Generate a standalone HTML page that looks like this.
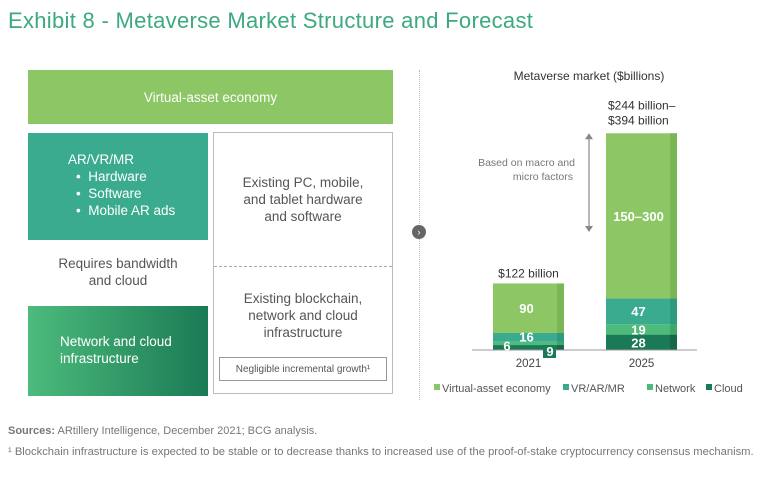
<!DOCTYPE html>
<html><head><meta charset="utf-8"><style>
body{margin:0;width:768px;height:477px;background:#fff;font-family:"Liberation Sans",sans-serif;position:relative;overflow:hidden}
.a{position:absolute}
.c{display:flex;align-items:center;justify-content:center;text-align:center}
</style></head><body>
<div class="a" style="left:8px;top:8px;font-size:22px;letter-spacing:0.3px;color:#3da97f">Exhibit 8 - Metaverse Market Structure and Forecast</div>

<div class="a c" style="left:28px;top:70px;width:365px;height:54px;background:#8cc665;color:#fff;font-size:13.5px">Virtual-asset economy</div>
<div class="a" style="left:28px;top:133px;width:180px;height:107px;background:#3aab8f;color:#fff;font-size:13.5px;line-height:17px">
<div style="position:absolute;left:40px;top:18px">AR/VR/MR</div>
<div style="position:absolute;left:48px;top:35px">•&nbsp; Hardware<br>•&nbsp; Software<br>•&nbsp; Mobile AR ads</div></div>
<div class="a c" style="left:28px;top:252px;width:180px;height:40px;color:#555;font-size:13.5px;line-height:17px">Requires bandwidth<br>and cloud</div>
<div class="a" style="left:28px;top:306px;width:180px;height:90px;background:linear-gradient(90deg,#4cbb7c,#1a7a55);color:#fff;font-size:13.5px;line-height:17px"><div style="position:absolute;left:32px;top:27px">Network and cloud<br>infrastructure</div></div>
<div class="a" style="left:213px;top:132px;width:178px;height:260px;border:1px solid #bbb">
<div class="c" style="position:absolute;left:0;top:0;width:178px;height:133px;color:#555;font-size:13.5px;line-height:17px">Existing PC, mobile,<br>and tablet hardware<br>and software</div>
<div style="position:absolute;left:0;top:133px;width:178px;border-top:1px dashed #aaa"></div>
<div class="c" style="position:absolute;left:0;top:150px;width:178px;height:65px;color:#555;font-size:13.5px;line-height:17px">Existing blockchain,<br>network and cloud<br>infrastructure</div>
<div class="c" style="position:absolute;left:5px;top:224px;width:166px;height:22px;border:1px solid #999;font-size:10px;color:#555">Negligible incremental growth¹</div></div>

<div class="a" style="left:419px;top:70px;height:330px;border-left:1px dotted #bbb"></div>
<div class="a c" style="left:412px;top:225px;width:14px;height:14px;border-radius:7px;background:#666;color:#fff;font-size:9px">›</div>

<svg class="a" style="left:0;top:0" width="768" height="477" id="ch"></svg>

<div class="a" style="left:8px;top:425px;font-size:11px;color:#777"><b>Sources:</b> ARtillery Intelligence, December 2021; BCG analysis.</div>
<div class="a" style="left:8px;top:446px;font-size:11.2px;color:#777">¹ Blockchain infrastructure is expected to be stable or to decrease thanks to increased use of the proof-of-stake cryptocurrency consensus mechanism.</div>

<script>
const years=["2021","2025"];
const cloud=[9,28];
const network=[6,19];
const vr=[16,47];
const virtualAsset=[90,300];
const labels=[["9","6","16","90"],["28","19","47","150–300"]];
const totals=["$122 billion",["$244 billion–","$394 billion"]];
const seriesNames=["Cloud","Network","VR/AR/MR","Virtual-asset economy"];
const colors=["#1a7a55","#4cbb7c","#3aab8f","#8cc665"];
const darks=["#146848","#3ea86b","#2f9a7f","#7ab556"];
const NS="http://www.w3.org/2000/svg",svg=document.getElementById('ch');
const base=350,k=0.55,bw=71;
const x=i=>493+i*113;
const y=v=>base-v*k;
function el(t,a,txt){const e=document.createElementNS(NS,t);for(const q in a)e.setAttribute(q,a[q]);if(txt!=null)e.textContent=txt;svg.appendChild(e);return e;}
let t=el('text',{x:589,y:80,'text-anchor':'middle','font-size':12,fill:'#333'},"Metaverse market ($billions)");


const series=[cloud,network,vr,virtualAsset];
years.forEach((yr,i)=>{
 let cum=0;
 series.forEach((s,j)=>{
  const y0=y(cum),y1=y(cum+s[i]);cum+=s[i];
  let r=el('rect',{x:x(i),y:y1,width:bw,height:y0-y1,fill:colors[j]});
  
  
  el('rect',{x:x(i)+bw-7,y:y1,width:7,height:y0-y1,fill:darks[j]});
 });
 let a=el('text',{x:x(i)+bw/2,y:base+17,'text-anchor':'middle','font-size':11.5,fill:'#444'},yr);
 
 
});
el('line',{x1:472,x2:697,y1:base,y2:base,stroke:'#999'});
function vl(tx,xx,yy){const e=el('text',{x:xx,y:yy,'text-anchor':'middle','font-size':13,'font-weight':'bold',fill:'#fff'},tx);}
el('rect',{x:x(0)+50,y:base-5,width:13,height:13,fill:'#1a7a55'});
vl(labels[0][0],x(0)+57,base+6);
vl(labels[0][1],x(0)+14,y(cloud[0]+network[0]/2)+7);
vl(labels[0][2],x(0)+bw/2-2,y(cloud[0]+network[0]+vr[0]/2)+4);
vl(labels[0][3],x(0)+bw/2-2,y(cloud[0]+network[0]+vr[0]+virtualAsset[0]/2)+5);
let c=0;[cloud,network,vr,virtualAsset].forEach((s,j)=>{vl(labels[1][j],x(1)+bw/2-3,y(c+s[1]/2)+5);c+=s[1];});
let tt=el('text',{x:x(0)+bw/2,y:y(cloud[0]+network[0]+vr[0]+virtualAsset[0])-6,'text-anchor':'middle','font-size':12,fill:'#333'},totals[0]);

const top25=y(cloud[1]+network[1]+vr[1]+virtualAsset[1]);
let t2=el('text',{x:x(1)+2,y:top25-24,'font-size':12,fill:'#333'},totals[1][0]);
el('text',{x:x(1)+2,y:top25-9,'font-size':12,fill:'#333'},totals[1][1]);
el('line',{x1:589,x2:589,y1:top25+4,y2:228,stroke:'#888','stroke-width':1.2});
el('path',{d:`M585,${top25+6} L589,${top25} L593,${top25+6}Z M585,226 L589,232 L593,226Z`,fill:'#888'});
el('text',{x:575,y:166,'text-anchor':'end','font-size':10.5,fill:'#777'},"Based on macro and");
el('text',{x:573,y:180,'text-anchor':'end','font-size':10.5,fill:'#777'},"micro factors");
const lx=[434,563,647,706],lorder=[3,2,1,0];
lorder.forEach((j,n)=>{
 let r=el('rect',{x:lx[n],y:384,width:6,height:6,fill:colors[j]});
 
 let e=el('text',{x:lx[n]+8,y:392,'font-size':11,fill:'#555'},seriesNames[j]);
 
});
</script>
</body></html>
